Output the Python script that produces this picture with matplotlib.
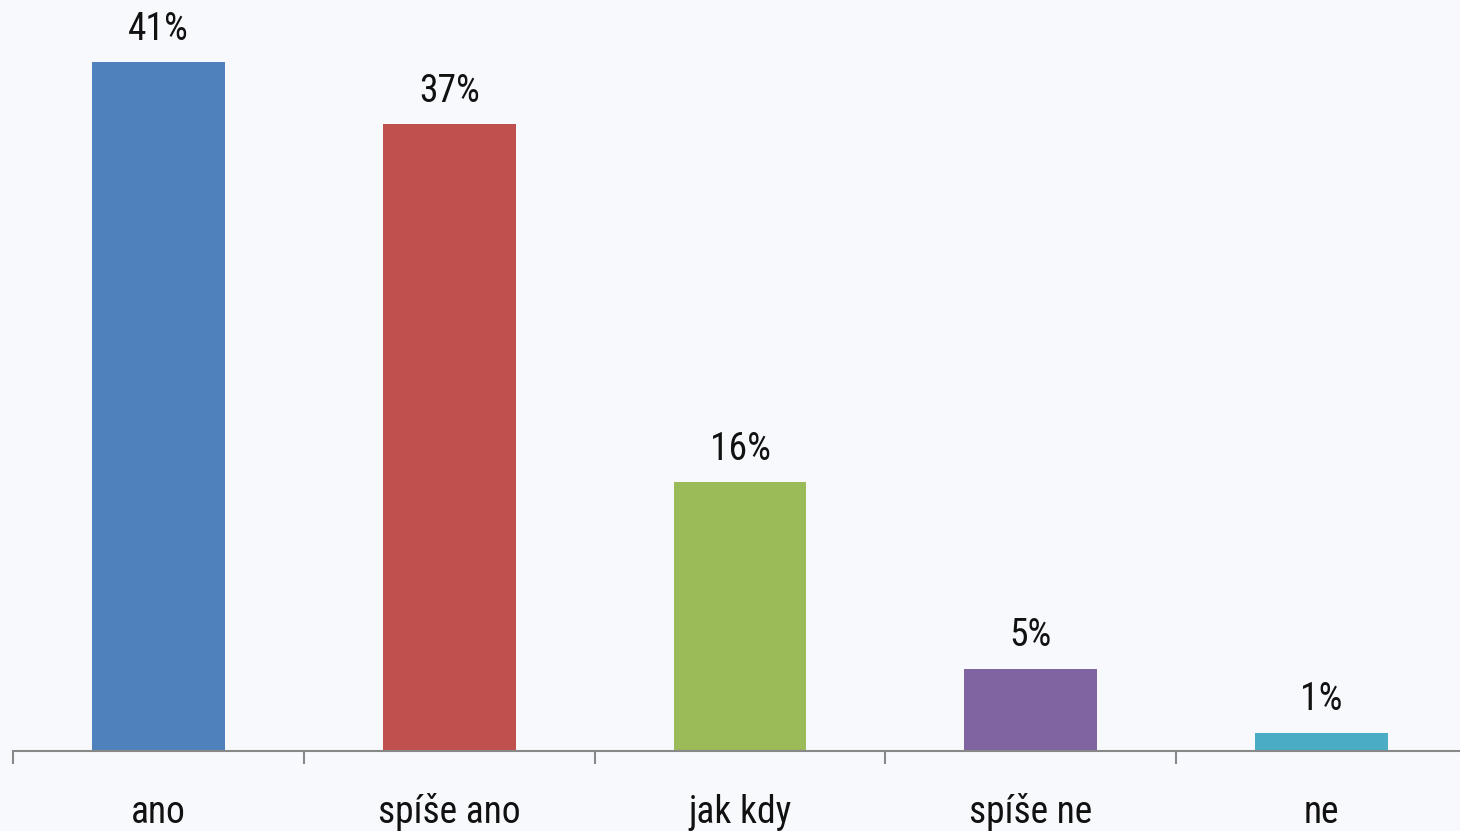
import matplotlib.pyplot as plt
import numpy as np

categories = ['ano', 'spíše ano', 'jak kdy', 'spíše ne', 'ne']
values = [41.0, 37.3, 16.0, 4.9, 1.1]
labels = ['41%', '37%', '16%', '5%', '1%']
colors = ['#4F81BD', '#C0504D', '#9BBB59', '#8064A2', '#4BACC6']

bg = '#F8F9FD'
plt.rcParams['font.family'] = ['Roboto Condensed', 'Roboto', 'DejaVu Sans']

fig = plt.figure(figsize=(14.6, 8.31), dpi=100)
fig.patch.set_facecolor(bg)
ax = fig.add_axes([13 / 1460, 80 / 831, 1454 / 1460, 751 / 831])
ax.set_facecolor(bg)

x = np.arange(len(categories))
ax.bar(x, values, width=0.457, color=colors, zorder=2)

for xi, v, lab in zip(x, values, labels):
    ax.annotate(lab, (xi, v), xytext=(0, 16), textcoords='offset points',
                ha='center', va='baseline', fontsize=27, color='#111111')

ax.set_xlim(-0.5, 4.5)
ax.set_ylim(0, 751 / 16.8)

for s in ['top', 'right', 'left']:
    ax.spines[s].set_visible(False)
ax.spines['bottom'].set_color('#888888')
ax.spines['bottom'].set_linewidth(1.5)

ax.set_yticks([])
ax.set_xticks(x)
ax.set_xticklabels(categories, fontsize=27, color='#111111', va='baseline')
ax.tick_params(axis='x', which='major', length=0, pad=52)
ax.set_xticks(np.arange(-0.5, 4.5, 1.0), minor=True)
ax.tick_params(axis='x', which='minor', length=9, width=1.5, color='#888888')

fig.savefig('out.png', dpi=100, facecolor=bg)
